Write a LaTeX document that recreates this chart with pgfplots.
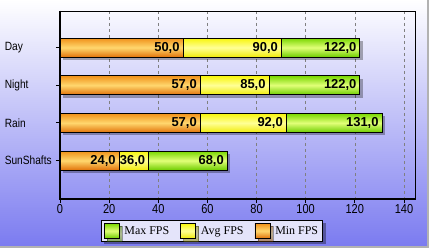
\documentclass[border=0pt]{standalone}
\usepackage{fontspec}
\usepackage{pgfplots}
\pgfplotsset{compat=1.18}
\usetikzlibrary{shadows}
\newfontfamily\tickfont{Liberation Sans}[FakeStretch=0.85]
\newfontfamily\lblfont{Liberation Sans}
\newfontfamily\legfont{Liberation Serif}
\definecolor{bgbot}{RGB}{122,122,240}
\definecolor{gtop}{RGB}{120,215,0}
\definecolor{gmid}{RGB}{225,255,120}
\definecolor{gbot}{RGB}{110,205,0}
\definecolor{ytop}{RGB}{248,245,10}
\definecolor{ymid}{RGB}{255,255,150}
\definecolor{ybot}{RGB}{240,235,10}
\definecolor{otop}{RGB}{240,145,25}
\definecolor{omid}{RGB}{255,215,110}
\definecolor{obot}{RGB}{225,115,10}
\definecolor{legfill}{RGB}{228,228,250}
\pgfplotsset{
  lbl/.style={
    point meta=x,
    nodes near coords={\pgfmathprintnumber[fixed,fixed zerofill,precision=1,use comma,assume math mode=true]{\pgfplotspointmeta}},
    every node near coord/.append style={anchor=east, inner sep=0pt, xshift=-3bp, text=black,
      font=\fontsize{13}{13}\lblfont\bfseries},
  },
  gser/.style={draw=black, line width=0.6bp, top color=gtop, bottom color=gbot, middle color=gmid, lbl},
  yser/.style={draw=black, line width=0.6bp, top color=ytop, bottom color=ybot, middle color=ymid, lbl},
  oser/.style={draw=black, line width=0.6bp, top color=otop, bottom color=obot, middle color=omid, lbl},
  shad/.style={forget plot, draw=none, fill=black, fill opacity=0.3, xshift=3bp, yshift=-3bp},
}
\begin{document}
\begin{tikzpicture}[x=1bp,y=1bp]
\path[use as bounding box] (-60,-49) rectangle (369,199);
\shade[top color=white, bottom color=bgbot] (-60,-49) rectangle (369,199);
\draw[gray!60, line width=2bp] (368,199) -- (368,-48) -- (-60,-48);
\begin{axis}[
  name=ax,
  at={(0,0)}, anchor=south west,
  scale only axis, width=355bp, height=188bp,
  xbar, bar width=19bp, bar shift=0pt,
  xmin=0, xmax=144.5, ymin=-0.97, ymax=4.02, y dir=reverse,
  ytick={0,1,2,3}, yticklabels={Day,Night,Rain,SunShafts},
  xtick={0,20,...,140},
  tick pos=left, tick align=outside, major tick length=4bp,
  tick style={black, line width=0.8bp},
  xmajorgrids, grid style={gray, dash pattern=on 3bp off 3bp, line width=0.5bp},
  axis line style={line width=0.8bp},
  xticklabel style={font=\fontsize{13}{13}\tickfont, /pgf/number format/assume math mode=true, inner sep=1bp},
  yticklabel style={font=\fontsize{12}{12}\tickfont, anchor=east, text width=51bp, align=left, inner sep=0pt},
  legend columns=3,
  legend image code/.code={\draw[#1, draw=black, line width=0.8bp] (0bp,-7.5bp) rectangle (15bp,7.5bp); \path (18bp,0bp);},
  legend style={at={(0.428,-0.112)}, anchor=north, draw=black, line width=0.8bp, fill=legfill,
    font=\fontsize{12}{12}\legfont, inner sep=2.5bp,
    drop shadow={shadow xshift=3bp, shadow yshift=-3bp, opacity=0.35, fill=black},
    /tikz/every even column/.append style={column sep=9bp}},
]
% shadows
\addplot[shad] coordinates {(122,0)};
\addplot[shad] coordinates {(122,1)};
\addplot[shad] coordinates {(131,2)};
\addplot[shad] coordinates {(68,3)};
% Max FPS
\addplot[gser] coordinates {(122,0)};
\addlegendentry{Max FPS}
\addplot[gser, forget plot] coordinates {(122,1)};
\addplot[gser, forget plot] coordinates {(131,2)};
\addplot[gser, forget plot] coordinates {(68,3)};
% Avg FPS
\addplot[yser] coordinates {(90,0)};
\addlegendentry{Avg FPS}
\addplot[yser, forget plot] coordinates {(85,1)};
\addplot[yser, forget plot] coordinates {(92,2)};
\addplot[yser, forget plot] coordinates {(36,3)};
% Min FPS
\addplot[oser] coordinates {(50,0)};
\addlegendentry{Min FPS}
\addplot[oser, forget plot] coordinates {(57,1)};
\addplot[oser, forget plot] coordinates {(57,2)};
\addplot[oser, forget plot] coordinates {(24,3)};
\end{axis}
\draw[line width=2bp] (ax.north west) -- (ax.south west) -- (ax.south east);
\end{tikzpicture}
\end{document}
